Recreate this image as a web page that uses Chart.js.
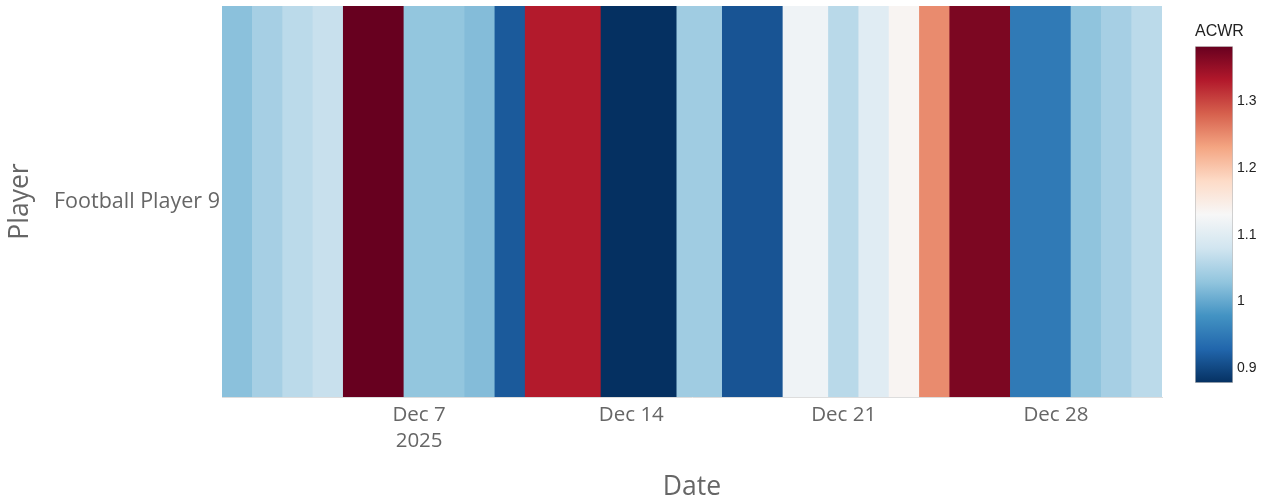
<!DOCTYPE html>
<html>
<head>
<meta charset="utf-8">
<title>ACWR heatmap</title>
<script src="https://cdn.jsdelivr.net/npm/chart.js@4.4.1/dist/chart.umd.min.js"></script>
<style>
  html, body { margin: 0; padding: 0; background: #fff; }
  #wrap { position: relative; width: 1266px; height: 498px; }
  #wrap canvas { position: absolute; left: 0; top: 0; }
</style>
</head>
<body>
<div id="wrap">
  <canvas id="heat" width="1266" height="498"></canvas>
  <canvas id="bar" width="1266" height="498"></canvas>
</div>
<script>
// Session dates and acute:chronic workload ratio for the player
const player = 'Football Player 9';
const dates = [
  '2025-12-01', '2025-12-02', '2025-12-03', '2025-12-04', '2025-12-05',
  '2025-12-08', '2025-12-09', '2025-12-10', '2025-12-11', '2025-12-15',
  '2025-12-16', '2025-12-18', '2025-12-20', '2025-12-21', '2025-12-22',
  '2025-12-23', '2025-12-24', '2025-12-25', '2025-12-28', '2025-12-29',
  '2025-12-30', '2025-12-31'
];
const acwr = [
  1.025, 1.045, 1.062, 1.072, 1.382,
  1.030, 1.020, 0.917, 1.330, 0.878,
  1.040, 0.912, 1.120, 1.060, 1.100,
  1.135, 1.250, 1.368, 0.951, 1.028,
  1.045, 1.062
];

// Axis ticks (x in day-of-December units)
const xTickDays = [7, 14, 21, 28];
const xTickLabels = [['Dec 7', '2025'], 'Dec 14', 'Dec 21', 'Dec 28'];
const colorbarTicks = [0.9, 1, 1.1, 1.2, 1.3];

// Diverging blue-white-red scale (low = blue, high = red)
const rdbu = [
  [5, 48, 97], [33, 102, 172], [67, 147, 195], [146, 197, 222], [209, 229, 240],
  [247, 247, 247], [253, 219, 199], [244, 165, 130], [214, 96, 77], [178, 24, 43],
  [103, 0, 31]
];

const zmin = Math.min(...acwr);
const zmax = Math.max(...acwr);

function colorFor(v) {
  const t = Math.max(0, Math.min(1, (v - zmin) / (zmax - zmin)));
  const pos = t * (rdbu.length - 1);
  const i = Math.min(Math.floor(pos), rdbu.length - 2);
  const f = pos - i;
  const a = rdbu[i], b = rdbu[i + 1];
  const c = a.map((ch, k) => Math.round(ch + (b[k] - ch) * f));
  return `rgb(${c[0]},${c[1]},${c[2]})`;
}

// Day number within December for each date
function dayOf(s) {
  return (Date.parse(s + 'T00:00:00Z') - Date.parse('2025-11-30T00:00:00Z')) / 86400000;
}
const days = dates.map(dayOf);

// Each cell spans halfway to its neighbours
const edges = [];
for (let i = 0; i <= days.length; i++) {
  if (i === 0) edges.push(days[0] - (days[1] - days[0]) / 2);
  else if (i === days.length) edges.push(days[i - 1] + (days[i - 1] - days[i - 2]) / 2);
  else edges.push((days[i - 1] + days[i]) / 2);
}

const cells = days.map((d, i) => ({ x: [edges[i], edges[i + 1]], y: player }));

const textGray = 'rgb(102,102,102)';
const mainFont = 'Open Sans';

new Chart(document.getElementById('heat'), {
  type: 'bar',
  data: {
    labels: [player],
    datasets: [{
      data: cells,
      backgroundColor: acwr.map(colorFor),
      borderWidth: 0,
      barPercentage: 1,
      categoryPercentage: 1
    }]
  },
  options: {
    indexAxis: 'y',
    responsive: false,
    animation: false,
    layout: { padding: { left: 0, top: 6, right: 104, bottom: 0 } },
    plugins: { legend: { display: false }, tooltip: { enabled: false } },
    scales: {
      x: {
        type: 'linear',
        min: edges[0],
        max: edges[edges.length - 1],
        afterFit: s => { s.height = 101; s.paddingLeft = 0; s.paddingRight = 0; },
        afterBuildTicks: s => { s.ticks = xTickDays.map(v => ({ value: v })); },
        grid: { display: false, drawTicks: false },
        border: { display: true, color: 'rgb(221,221,221)', width: 1 },
        ticks: {
          padding: 5,
          color: textGray,
          font: { family: mainFont, size: 20.5, lineHeight: 1.27 },
          maxRotation: 0,
          autoSkip: false,
          callback: (v) => {
            const k = xTickDays.indexOf(v);
            return k >= 0 ? xTickLabels[k] : '';
          }
        },
        title: {
          display: true,
          text: 'Date',
          color: textGray,
          font: { family: mainFont, size: 26.5, lineHeight: 1.0 },
          padding: { top: 0, bottom: -3 }
        }
      },
      y: {
        type: 'category',
        afterFit: s => { s.width = 222; s.paddingTop = 0; s.paddingBottom = 0; },
        grid: { display: false, drawTicks: false },
        border: { display: false },
        ticks: {
          padding: 2,
          color: textGray,
          font: { family: mainFont, size: 21.5 }
        },
        title: {
          display: true,
          text: 'Player',
          color: textGray,
          font: { family: mainFont, size: 26.5, lineHeight: 1.2 },
          padding: { top: 5, bottom: 0 }
        }
      }
    }
  }
});

// Colour bar legend
new Chart(document.getElementById('bar'), {
  type: 'bar',
  data: {
    labels: ['ACWR'],
    datasets: [{
      data: [[zmin, zmax]],
      backgroundColor: (ctx) => {
        const area = ctx.chart.chartArea;
        if (!area) return colorFor((zmin + zmax) / 2);
        const g = ctx.chart.ctx.createLinearGradient(0, area.bottom, 0, area.top);
        rdbu.forEach((c, i) => g.addColorStop(i / (rdbu.length - 1), `rgb(${c[0]},${c[1]},${c[2]})`));
        return g;
      },
      borderWidth: 1,
      borderColor: 'rgba(68,68,68,0.35)',
      borderSkipped: false,
      barPercentage: 1,
      categoryPercentage: 1
    }]
  },
  options: {
    responsive: false,
    animation: false,
    layout: { padding: { left: 1195, top: 22, right: 0, bottom: 115 } },
    plugins: {
      legend: { display: false },
      tooltip: { enabled: false },
      title: {
        display: true,
        text: 'ACWR',
        align: 'start',
        color: 'rgb(34,34,34)',
        font: { family: 'Liberation Sans', size: 16, weight: 'normal' },
        padding: { top: 0, bottom: 5 }
      }
    },
    scales: {
      x: { display: false },
      y: {
        position: 'right',
        min: zmin,
        max: zmax,
        afterFit: s => { s.width = 33; },
        afterBuildTicks: s => { s.ticks = colorbarTicks.map(v => ({ value: v })); },
        grid: { display: false, drawTicks: false },
        border: { display: false },
        ticks: {
          padding: 4,
          color: 'rgb(34,34,34)',
          font: { family: 'Liberation Sans', size: 14 },
          callback: v => String(v)
        }
      }
    }
  }
});
</script>
</body>
</html>
